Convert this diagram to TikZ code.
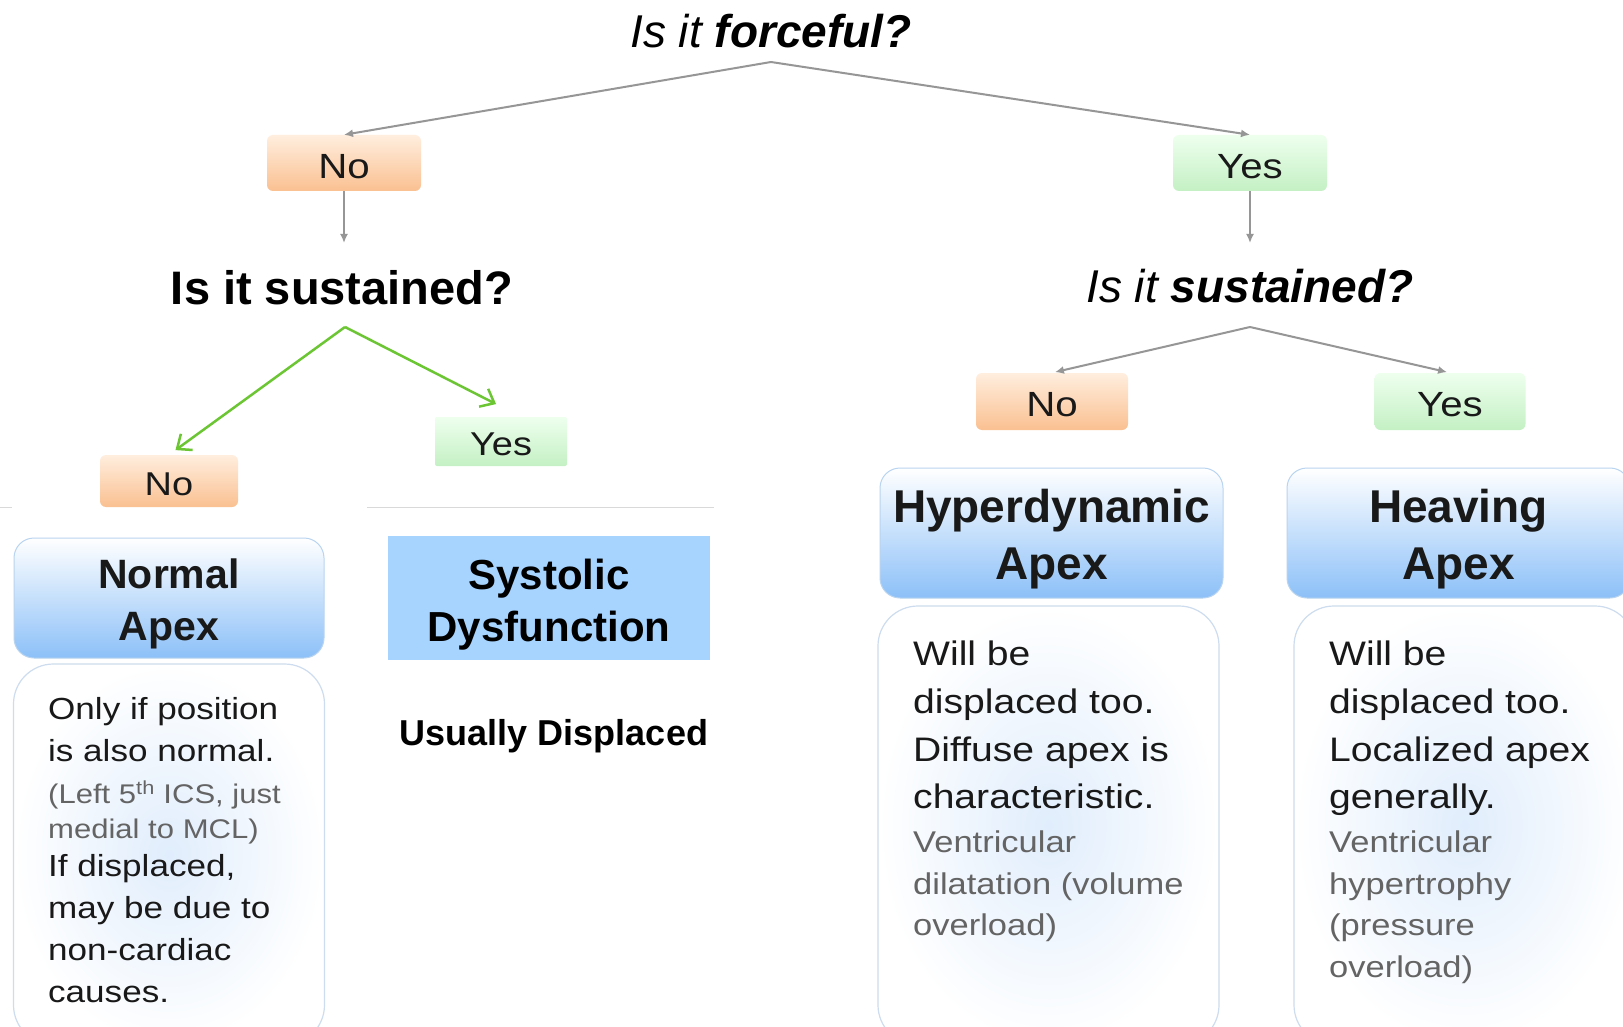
\documentclass[tikz,border=0pt]{standalone}
\usepackage{fontspec}
\setmainfont{Liberation Sans}
\newfontfamily\widesans[FakeStretch=1.15]{Liberation Sans}
\usetikzlibrary{arrows.meta}

\definecolor{notop}{RGB}{255,238,222}
\definecolor{nobot}{RGB}{250,192,145}
\definecolor{yestop}{RGB}{238,255,238}
\definecolor{yesbot}{RGB}{196,240,196}
\definecolor{headblue}{RGB}{140,192,248}
\definecolor{headline}{RGB}{185,212,240}
\definecolor{bodyline}{RGB}{205,220,238}
\definecolor{bodyglow}{RGB}{224,237,252}
\definecolor{sysblue}{RGB}{166,212,255}
\definecolor{linkgray}{RGB}{150,150,150}
\definecolor{linkgreen}{RGB}{108,198,52}
\definecolor{notegray}{RGB}{100,100,100}
\definecolor{inkdark}{RGB}{25,25,25}

\newcommand\setfs[2]{\fontsize{#1}{#2}\selectfont}
% pushes the first line of a box label down
\newcommand\headstrut[1]{\rule{0pt}{#1}}

\begin{document}
\begin{tikzpicture}[x=1pt,y=-1pt]
      \tikzstyle{answer}=[rounded corners=6pt,inner sep=0pt,text=inkdark,text height=31pt,font=\widesans\setfs{35}{40}]
      \tikzstyle{nobox}=[answer,top color=notop,bottom color=nobot,minimum width=154pt,minimum height=56pt]
      \tikzstyle{yesbox}=[answer,top color=yestop,bottom color=yesbot,minimum width=154pt,minimum height=56pt]
      \tikzstyle{link}=[draw=linkgray,line width=2pt,-{Latex[length=9pt,width=8pt]}]
      \tikzstyle{greenlink}=[draw=linkgreen,line width=2.5pt,-{Straight Barb[length=12pt,width=20pt]}]
      \tikzstyle{header}=[rounded corners=20pt,draw=headline,line width=1pt,top color=white,middle color=headblue!35,bottom color=headblue,align=center,text=inkdark,font=\bfseries\setfs{46}{57}]
      \tikzstyle{body}=[rounded corners=40pt,draw=bodyline,line width=1.2pt,inner color=bodyglow,outer color=white]
      \tikzstyle{note}=[anchor=north west,inner sep=0pt,align=left,text=inkdark]

      \useasboundingbox (0,0) rectangle (1623,1027);
      \fill[white] (0,0) rectangle (1623,1027);
      \clip (0,0) rectangle (1623,1027);

      % questions and answers
      \node (forceful) at (771,31) {\itshape\setfs{46}{50}Is it \bfseries forceful?};
      \coordinate (forceFork) at (771,62);
      \node[nobox] (no1) at (344,163) {No};
      \node[yesbox] (yes1) at (1250,163) {Yes};
      \coordinate (leftDrop) at (344,243);
      \coordinate (rightDrop) at (1250,243);

      \node (leftQ) at (342,288) {\bfseries\setfs{47}{52}Is it sustained?};
      \node (rightQ) at (1250,286) {\itshape\setfs{46}{50}Is it \bfseries sustained?};
      \coordinate (leftFork) at (345,327);
      \coordinate (rightFork) at (1250,327);

      \node[nobox,minimum width=138pt,minimum height=52pt,text height=29pt,font=\widesans\setfs{33}{38}] (no2) at (169,481) {No};
      \node[yesbox,rounded corners=2pt,minimum width=132pt,minimum height=49pt,text height=29pt,font=\widesans\setfs{33}{38}] (yes2) at (501,441.5) {Yes};
      \node[nobox,minimum width=152pt,minimum height=57pt] (no3) at (1052,401.5) {No};
      \node[yesbox,minimum width=151pt,minimum height=57pt] (yes3) at (1450,401.5) {Yes};

      \draw[link] (forceFork) -- (no1.north);
      \draw[link] (forceFork) -- (yes1.north);
      \draw[link] (no1.south) -- (leftDrop);
      \draw[link] (yes1.south) -- (rightDrop);
      \draw[greenlink,shorten >=8pt] (leftFork) -- (no2.north);
      \draw[greenlink,shorten >=28pt] (leftFork) -- (yes2.51);
      \draw[link,shorten >=3pt] (rightFork) -- (no3.north);
      \draw[link,shorten >=3pt] (rightFork) -- (yes3.north);

      \draw[draw=black!15,line width=1pt] (0,507) -- (12,507);
      \draw[draw=black!15,line width=1pt] (367,507) -- (714,507);

      % outcomes
      \node[header,minimum width=310pt,minimum height=120pt,font=\bfseries\setfs{41}{52}] (normalHead) at (169,598) {\headstrut{42pt}Normal\\Apex};
      \node[body,minimum width=311pt,minimum height=381pt] (normalBody) at (169,854.5) {};
      \node[fill=sysblue,minimum width=322pt,minimum height=124pt,align=center,font=\bfseries\setfs{42}{52}] (systolic) at (549,598) {\headstrut{43pt}Systolic\\Dysfunction};
      \node (displaced) at (554,736) {\bfseries\setfs{36}{40}Usually Displaced};

      \node[header,minimum width=343pt,minimum height=130pt] (hyperHead) at (1051.5,533) {\headstrut{46pt}Hyperdynamic\\Apex};
      \node[body,minimum width=341pt,minimum height=439pt] (hyperBody) at (1048.5,825.5) {};
      \node[header,minimum width=343pt,minimum height=130pt] (heavingHead) at (1458.5,533) {\headstrut{46pt}Heaving\\Apex};
      \node[body,minimum width=341pt,minimum height=439pt] (heavingBody) at (1464.5,825.5) {};

      % notes
      \node[note,font=\widesans\setfs{30.5}{42}] (normalNoteA) at (48,697) {Only if position\\is also normal.};
      \node[note,text=notegray,font=\widesans\setfs{27}{35}] (normalNoteB) at (48,781) {(Left 5\textsuperscript{th} ICS, just\\medial to MCL)};
      \node[note,font=\widesans\setfs{30.5}{42}] (normalNoteC) at (48,854) {If displaced,\\may be due to\\non-cardiac\\causes.};

      \node[note,font=\widesans\setfs{34}{47.6}] (hyperNoteA) at (913,641) {Will be\\displaced too.\\Diffuse apex is\\characteristic.};
      \node[note,text=notegray,font=\widesans\setfs{30}{41.4}] (hyperNoteB) at (913,831) {Ventricular\\dilatation (volume\\overload)};
      \node[note,font=\widesans\setfs{34}{47.6}] (heavingNoteA) at (1329,641) {Will be\\displaced too.\\Localized apex\\generally.};
      \node[note,text=notegray,font=\widesans\setfs{30}{41.4}] (heavingNoteB) at (1329,831) {Ventricular\\hypertrophy\\(pressure\\overload)};
\end{tikzpicture}
\end{document}
